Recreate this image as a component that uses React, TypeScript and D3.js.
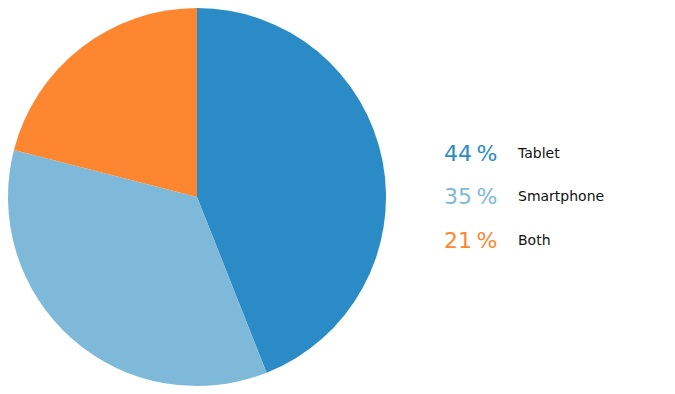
import { useRef, useEffect } from 'react'
import * as d3 from 'd3'

const CATEGORIES = ['Tablet', 'Smartphone', 'Both']
const VALUES = [44, 35, 21]
const COLORS = ['#2a8bc7', '#7eb9d9', '#fd8631']

const WIDTH = 675
const HEIGHT = 394
const CX = 197
const CY = 197
const RADIUS = 189

export default function App() {
  const svgRef = useRef<SVGSVGElement>(null)

  useEffect(() => {
    if (!svgRef.current) return
    const el = d3.select(svgRef.current)
    el.selectAll('*').remove()

    const pie = d3.pie<number>().sort(null).value((d) => d)
    const arc = d3.arc<d3.PieArcDatum<number>>().innerRadius(0).outerRadius(RADIUS)

    const g = el.append('g').attr('transform', `translate(${CX},${CY})`)
    g.selectAll('path')
      .data(pie(VALUES))
      .join('path')
      .attr('d', arc)
      .attr('fill', (_, i) => COLORS[i])

    // Legend
    const y = d3.scaleBand().domain(CATEGORIES).range([131, 262])
    const legend = el.append('g').attr('font-family', '"DejaVu Sans", Verdana, sans-serif')
    const rows = legend.selectAll('g')
      .data(CATEGORIES)
      .join('g')
      .attr('transform', (d) => `translate(0,${(y(d) ?? 0) + y.bandwidth() / 2})`)

    rows.append('text')
      .attr('x', 444)
      .attr('dy', '0.36em')
      .attr('font-size', 22)
      .attr('fill', (_, i) => COLORS[i])
      .text((_, i) => `${VALUES[i]}\u2009%`)

    rows.append('text')
      .attr('x', 518)
      .attr('dy', '0.34em')
      .attr('font-size', 14)
      .attr('fill', '#111')
      .text((d) => d)
  }, [])

  return (
    <svg
      ref={svgRef}
      width={WIDTH}
      height={HEIGHT}
      style={{ position: 'absolute', left: 0, top: 0 }}
    />
  )
}
